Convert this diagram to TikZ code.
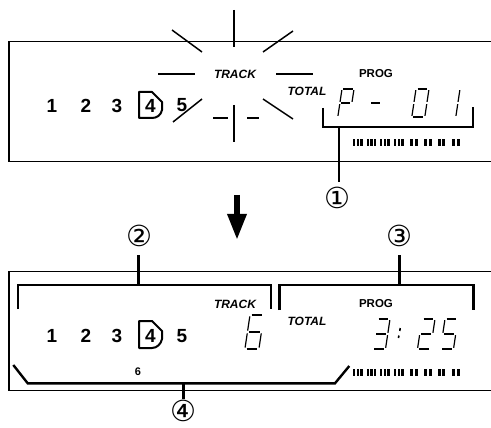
\documentclass[tikz,border=0pt]{standalone}
\usepackage{fontspec}
\setmainfont{Liberation Sans}
\newfontfamily\circfont{DejaVu Sans}
\usetikzlibrary{arrows.meta}
\def\lcdsega{(0.12,0) -- (0.88,0)}
\def\lcdsegb{(1,0.08) -- (1,0.92)}
\def\lcdsegc{(1,1.08) -- (1,1.92)}
\def\lcdsegd{(0.12,2) -- (0.88,2)}
\def\lcdsege{(0,1.08) -- (0,1.92)}
\def\lcdsegf{(0,0.08) -- (0,0.92)}
\def\lcdsegg{(0.12,1) -- (0.88,1)}
\newcommand{\lcddigit}[5]{%
  \begin{scope}[shift={(#1,#2)}, xslant=0.15, xscale=#3, yscale=#4/2]
    \foreach \s in {#5} {\draw[lcd] \csname lcdseg\s\endcsname;}
  \end{scope}}
\newcommand{\levelbars}[1]{%
  \foreach \gx in {353,366.5,380,394} {
    \foreach \bx in {0,3.7,7.4} \fill (\gx+\bx,#1) rectangle ++(2.3,7);
  }
  \foreach \gx in {410,424,437.5,452} {
    \foreach \bx in {0,4.6} \fill (\gx+\bx,#1) rectangle ++(3.2,7);
  }}
\begin{document}
\begin{tikzpicture}[
  x=1pt, y=-1pt,
  frame/.style={line width=1.2pt},
  brk/.style={line width=2.4pt},
  ray/.style={line width=1.5pt},
  lcd/.style={line width=1.2pt},
  seltrk/.style={line width=2pt, line join=round},
  numtxt/.style={font=\fontsize{19}{19}\selectfont\bfseries, inner sep=0},
  tag/.style={font=\fontsize{12}{12}\selectfont\bfseries\itshape, inner sep=0},
  prog/.style={font=\fontsize{11.5}{11.5}\selectfont\bfseries, inner sep=0},
  small/.style={font=\fontsize{11}{11}\selectfont\bfseries, inner sep=0},
  callout/.style={font=\circfont\fontsize{29}{29}\selectfont, inner sep=0}
]
\useasboundingbox (0,0) rectangle (491,428);
\draw[frame] (491,41.7) -- (9,41.7) -- (9,161.7) -- (491,161.7);
\draw[frame] (491,271.7) -- (9,271.7) -- (9,390.7) -- (491,390.7);

\draw[ray] (234,10) -- (234,47);
\draw[ray] (172,30) -- (202,52);
\draw[ray] (263,52) -- (293,31);
\draw[ray] (158,74) -- (195,74);
\draw[ray] (276,74) -- (313,74);
\draw[ray] (173,122) -- (202,99);
\draw[ray] (263,99) -- (293,119);
\draw[ray] (234,105) -- (234,142);
\draw[ray] (213,118) -- (228,118);
\draw[ray] (247,118) -- (259,118);

\node[tag] (trk1) at (235,74) {TRACK};
\node[prog] (prg1) at (376,74) {PROG};
\node[tag] (tot1) at (307,91) {TOTAL};
\node[numtxt] (n11) at (52,105.5) {1};
\node[numtxt] (n12) at (86,105.5) {2};
\node[numtxt] (n13) at (117,105.5) {3};
\node[numtxt] (n14) at (150.5,105.5) {4};
\node[numtxt] (n15) at (182,105.5) {5};
\draw[seltrk] (139,92) -- (152,92) -- (162,102) -- (162,110) .. controls (161,115) and (157,118) .. (152,118) -- (139,118) -- cycle;
\lcddigit{342}{89}{12}{28}{a,b,f,g,e}
\lcddigit{372}{89}{12}{28}{g}
\lcddigit{416}{89}{13}{28}{a,b,c,d,e,f}
\lcddigit{448}{89}{12}{28}{b,c}
\levelbars{139}

\draw[brk] (323,108) -- (323,127) -- (473,127) -- (473,107);
\coordinate (s1) at (338.7,127);
\coordinate (e1) at (338.7,182);
\draw[brk] (s1) -- (e1);
\node[callout] (c1) at (337,198) {①};

\coordinate (arrtop) at (237,195);
\coordinate (arrtip) at (237,240);
\draw[line width=6pt, -{Triangle[width=18pt,length=26pt]}] (arrtop) -- (arrtip);

\node[tag] (trk2) at (235,304) {TRACK};
\node[prog] (prg2) at (376,303.5) {PROG};
\node[tag] (tot2) at (307,321) {TOTAL};
\node[numtxt] (n21) at (52,336) {1};
\node[numtxt] (n22) at (86,336) {2};
\node[numtxt] (n23) at (117,336) {3};
\node[numtxt] (n24) at (150.5,336) {4};
\node[numtxt] (n25) at (182,336) {5};
\draw[seltrk] (139,321) -- (152,321) -- (162,331) -- (162,339) .. controls (161,344) and (157,348) .. (152,348) -- (139,348) -- cycle;
\node[small] (six) at (138,372) {6};
\lcddigit{250}{315}{14}{34}{a,f,g,e,c,d}
\lcddigit{377}{319}{13}{30}{a,b,g,c,d}
\draw[line width=1.6pt] (400.2,328) -- (399.8,331);
\draw[line width=1.6pt] (398.9,335.5) -- (398.5,338);
\lcddigit{422}{319}{13}{30}{a,b,g,e,d}
\lcddigit{445}{319}{13}{30}{a,f,g,c,d}
\levelbars{369}

\draw[brk] (18,309) -- (18,284.7) -- (270.7,284.7) -- (270.7,309);
\coordinate (s2) at (138.3,284.7);
\coordinate (e2) at (138.3,255);
\draw[brk] (s2) -- (e2);
\node[callout] (c2) at (139,236) {②};

\draw[brk] (279.3,310) -- (279.3,284.7) -- (473.3,284.7) -- (473.3,310);
\coordinate (s3) at (399.3,284.7);
\coordinate (e3) at (399.3,255);
\draw[brk] (s3) -- (e3);
\node[callout] (c3) at (399,236) {③};

\draw[brk] (13.3,365) -- (27.7,383.3) -- (335,383.3) -- (349.3,366);
\coordinate (s4) at (183.3,383.3);
\coordinate (e4) at (183.3,399);
\draw[brk] (s4) -- (e4);
\node[callout] (c4) at (183,411) {④};
\end{tikzpicture}
\end{document}
